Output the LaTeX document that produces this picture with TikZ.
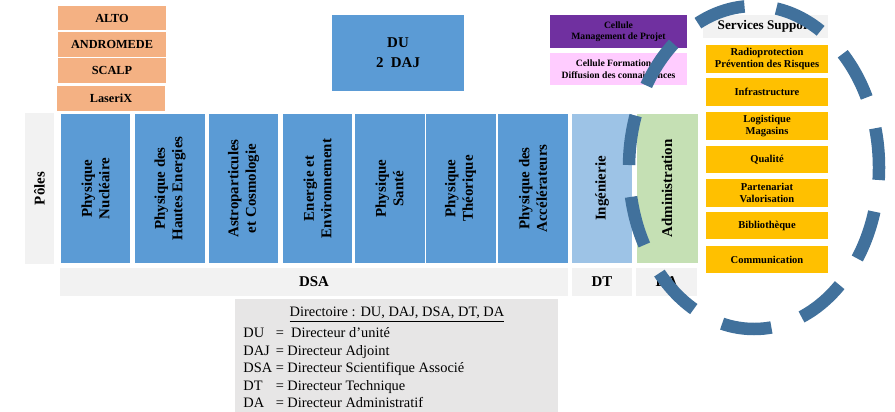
\documentclass[tikz,border=0pt]{standalone}
\usepackage{fontspec}
\setmainfont{Liberation Serif}
\usepackage{xcolor}
\definecolor{labofill}{HTML}{F4B183}
\definecolor{polefill}{HTML}{5B9BD5}
\definecolor{ingefill}{HTML}{9DC3E6}
\definecolor{adminfill}{HTML}{C5E0B4}
\definecolor{greyfill}{HTML}{F2F2F2}
\definecolor{legendfill}{HTML}{E7E6E6}
\definecolor{cmpfill}{HTML}{7030A0}
\definecolor{cfdfill}{HTML}{FFCCFF}
\definecolor{servfill}{HTML}{FFC000}
\definecolor{ringcol}{HTML}{41719C}

\begin{document}
\begin{tikzpicture}[x=0.02cm,y=-0.02cm,
        box/.style={inner sep=1pt,align=center,text=black},
        labo/.style={box,fill=labofill,minimum width=2.16cm,minimum height=0.5cm,font=\fontsize{7}{8}\selectfont\bfseries},
        pole/.style={box,fill=polefill,rotate=90,minimum width=2.98cm,minimum height=1.4cm,font=\fontsize{8.5}{10}\selectfont\bfseries},
        side/.style={pole,minimum height=1.2cm},
        bar/.style={box,fill=greyfill,minimum height=0.56cm,font=\fontsize{8.5}{10}\selectfont\bfseries},
        cellule/.style={box,minimum width=2.74cm,minimum height=0.65cm,font=\fontsize{5.5}{6.5}\selectfont\bfseries},
        serv/.style={box,fill=servfill,minimum width=2.44cm,minimum height=0.55cm,font=\fontsize{6}{7}\selectfont\bfseries},
        ring/.style={draw=ringcol,line width=0.25cm,dash pattern=on 1cm off 0.64cm,dash phase=0.75cm}]
        \useasboundingbox (0,0) rectangle (895,412);
        % plateformes
        \node[labo] (alto) at (112,18) {ALTO};
        \node[labo] (andromede) at (112,44.5) {ANDROMEDE};
        \node[labo] (scalp) at (112,70.5) {SCALP};
        \node[labo] (laserix) at (111,98.5) {LaseriX};
        % direction
        \node[box,fill=polefill,minimum width=2.64cm,minimum height=1.52cm,font=\fontsize{8.5}{11.5}\selectfont\bfseries] (du) at (398,53) {DU\\2~~DAJ};
        \node[cellule,fill=cmpfill] (cmp) at (618.5,31.5) {Cellule\\Management de Projet};
        \node[cellule,fill=cfdfill] (cfd) at (618.5,69) {Cellule Formation et\\Diffusion des connaissances};
        % poles
        \node[box,fill=greyfill,rotate=90,minimum width=3.02cm,minimum height=0.58cm,font=\fontsize{8.5}{10}\selectfont\bfseries] (poles) at (39.5,188.5) {Pôles};
        \node[pole] (nucl) at (95.5,188.5) {Physique\\Nucléaire};
        \node[pole] (phe) at (170,188.5) {Physique des\\Hautes Energies};
        \node[pole] (astro) at (243.5,188.5) {Astroparticules\\et Cosmologie};
        \node[pole] (energie) at (317.5,188.5) {Energie et\\Environnement};
        \node[pole] (sante) at (389.5,188.5) {Physique\\Santé};
        \node[pole] (theo) at (460.5,188.5) {Physique\\Théorique};
        \node[pole] (accel) at (533,188.5) {Physique des\\Accélérateurs};
        \node[side,fill=ingefill] (inge) at (602,188.5) {Ingénierie};
        \node[side,fill=adminfill,minimum height=1.22cm] (admin) at (667,188.5) {Administration};
        \node[bar,minimum width=10.16cm] (dsa) at (314,282) {DSA};
        \node[bar,minimum width=1.2cm] (dt) at (602,282) {DT};
        \node[bar,minimum width=1.22cm] (da) at (666.5,282) {DA};
        % services support
        \node[box,fill=greyfill,minimum width=2.5cm,minimum height=0.46cm,font=\fontsize{7.5}{9}\selectfont\bfseries] (support) at (765.5,26.5) {Services Support};
        \node[serv] (radio) at (767,59) {Radioprotection\\Prévention des Risques};
        \node[serv] (infra) at (767,92) {Infrastructure};
        \node[serv] (logist) at (767,126) {Logistique\\Magasins};
        \node[serv] (qualite) at (767,159.5) {Qualité};
        \node[serv] (parten) at (767,193) {Partenariat\\Valorisation};
        \node[serv] (biblio) at (767,225.5) {Bibliothèque};
        \node[serv] (comm) at (767,259.5) {Communication};
        % legende
        \fill[legendfill] (235,299) rectangle (558,412);
        \node[font=\fontsize{8.2}{10}\selectfont,inner sep=0pt] (legtitle) at (397,315) {\underline{Directoire : DU, DAJ, DSA, DT, DA}};
        \node[font=\fontsize{8.2}{10}\selectfont,inner sep=0pt,anchor=north west] (legtext) at (243,325)
            {\begin{tabular}{@{}l@{\ }l@{}}
             DU & =\ \ Directeur d'unité\\
             DAJ & = Directeur Adjoint\\
             DSA & = Directeur Scientifique Associé\\
             DT & = Directeur Technique\\
             DA & = Directeur Administratif
             \end{tabular}};
        % cercle des services support
        \draw[ring] (754,167.5) ellipse [x radius=125, y radius=161.5];
    \end{tikzpicture}
\end{document}
